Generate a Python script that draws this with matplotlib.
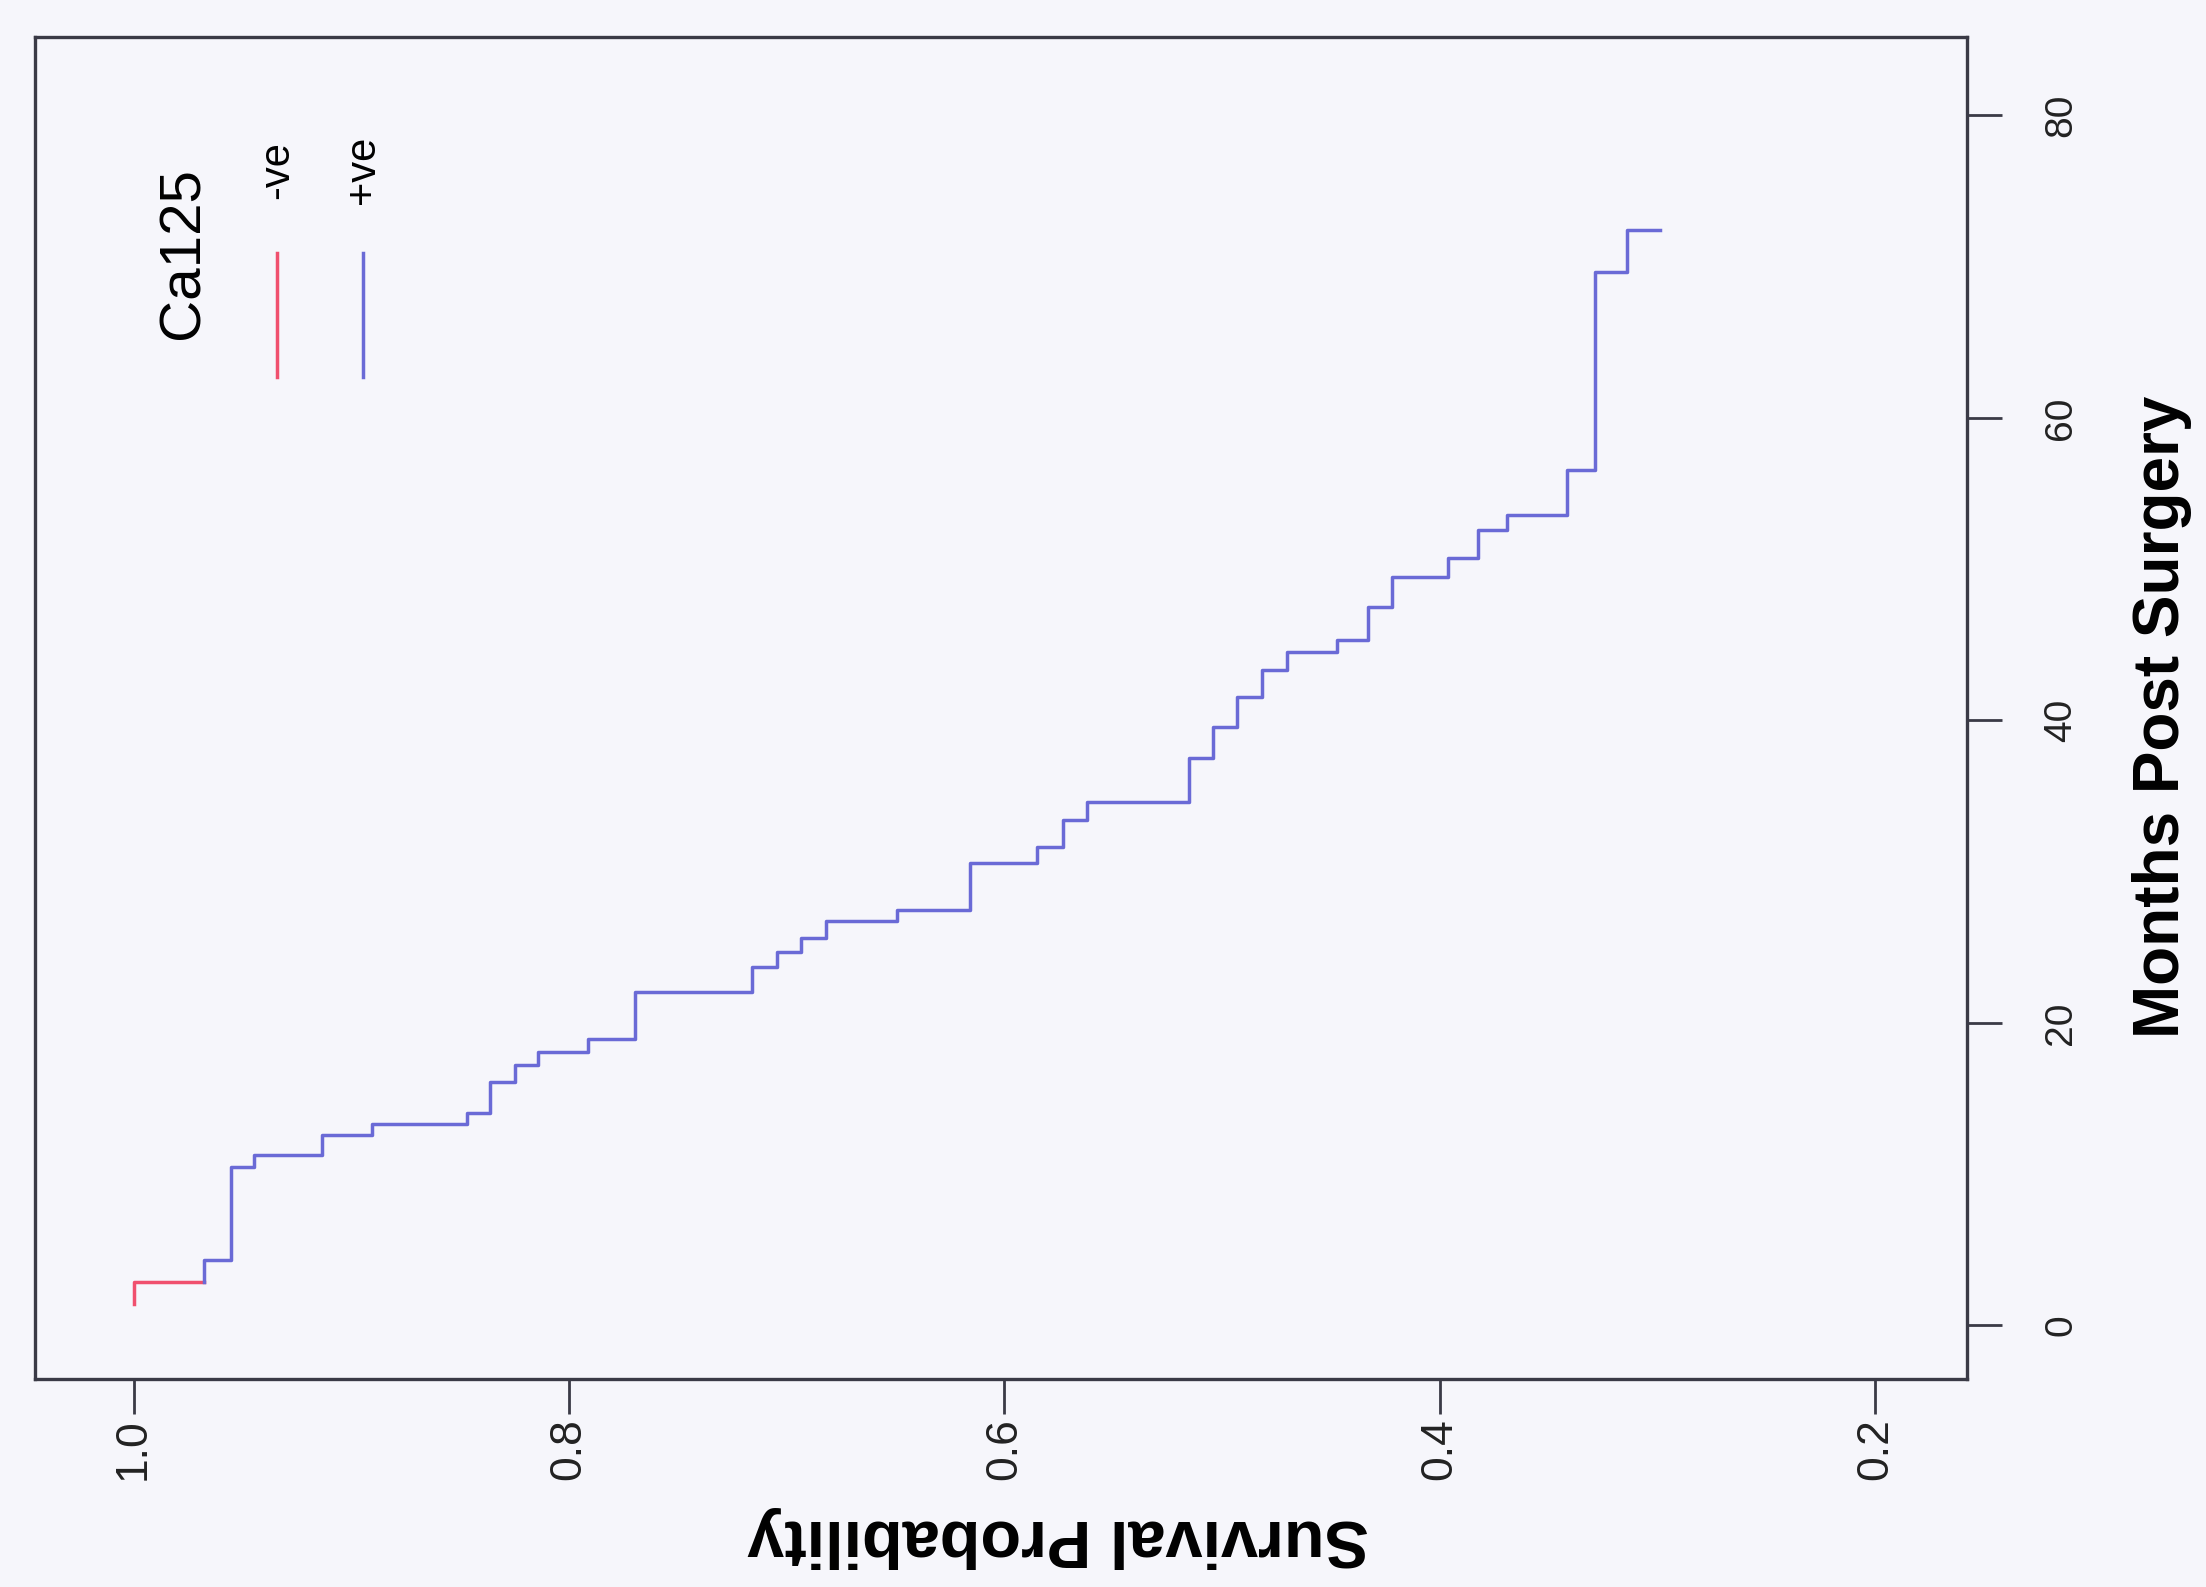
import numpy as np
import matplotlib
matplotlib.use("Agg")
import matplotlib.pyplot as plt
from matplotlib.lines import Line2D

# Kaplan-Meier steps (months, survival probability)
months = [1.4, 2.89, 4.32, 10.49, 11.27, 12.59, 13.32, 14.02, 16.11, 17.22,
          18.10, 18.92, 22.05, 23.72, 24.71, 25.59, 26.76, 27.46, 30.55, 31.65,
          33.41, 34.62, 37.49, 39.58, 41.57, 43.33, 44.54, 45.32, 47.52, 49.50,
          50.74, 52.59, 53.58, 56.56, 69.67, 72.42]
survival = [1.0, 0.9675, 0.9555, 0.9447, 0.9136, 0.8906, 0.8471, 0.8363, 0.8249, 0.8141,
            0.7913, 0.7695, 0.7161, 0.7046, 0.6935, 0.6820, 0.6495, 0.6159, 0.5849, 0.5730,
            0.5622, 0.5153, 0.5041, 0.4934, 0.4819, 0.4704, 0.4471, 0.4329, 0.4221, 0.3961,
            0.3825, 0.3693, 0.3418, 0.3288, 0.3142, 0.2989]

groups = ['-ve', '+ve']
colors = ['#f0506e', '#6a6ad6']
legend_title = 'Ca125'

prob_ticks = [1.0, 0.8, 0.6, 0.4, 0.2]
prob_labels = ['1.0', '0.8', '0.6', '0.4', '0.2']
month_ticks = [0, 20, 40, 60, 80]
month_labels = ['0', '20', '40', '60', '80']

fonts = ['Liberation Sans Narrow', 'Liberation Sans', 'DejaVu Sans']
plt.rcParams['font.family'] = fonts

W, H = 2206, 1587
bg = '#f6f6fb'
fig = plt.figure(figsize=(W / 100, H / 100), dpi=100, facecolor=bg)

# the page is turned on its side: probability runs along the bottom, months up the right
ax = fig.add_axes([35 / W, 1 - 1379 / H, (1967 - 35) / W, (1379 - 37) / H])
ax.set_facecolor(bg)

m = np.array(months)
s = np.array(survival)
ax.step(s[:2], m[:2], where='pre', color=colors[0], lw=2.5)
ax.step(s[1:], m[1:], where='pre', color=colors[1], lw=2.5)

ax.set_xlim(1.0453, 0.1579)
ax.set_ylim(-3.54, 85.19)

for sp in ax.spines.values():
    sp.set_color('#3a3a46')
    sp.set_linewidth(2.4)

ax.set_xticks(prob_ticks)
ax.set_xticklabels(prob_labels, rotation=90, fontsize=32, color='#222222')
ax.yaxis.tick_right()
ax.set_yticks(month_ticks)
ax.set_yticklabels(month_labels, rotation=90, fontsize=28, color='#222222', va='center')
ax.tick_params(axis='x', length=25, width=2, color='#3a3a46', pad=3)
ax.tick_params(axis='y', length=25, width=2, color='#3a3a46', pad=30)

# axis titles
fig.text(2162 / W, 1 - 717 / H, 'Months Post Surgery', rotation=90, fontsize=46,
         fontweight='bold', ha='center', va='center')
fig.text(1058 / W, 1 - 1537 / H, 'Survival Probability', rotation=180, fontsize=48,
         fontweight='bold', ha='center', va='center')

# legend, drawn by hand because it is turned too
fig.text(183 / W, 1 - 253 / H, legend_title, rotation=90, fontsize=42, ha='center', va='center')
key_x = [277, 363]
for i in range(len(groups)):
    fig.add_artist(Line2D([key_x[i] / W, key_x[i] / W], [1 - 253 / H, 1 - 377 / H],
                          color=colors[i], lw=2.5, transform=fig.transFigure))
    fig.text(key_x[i] / W, 1 - 170 / H, groups[i], rotation=90, fontsize=30,
             ha='center', va='center')

fig.savefig('out.png', dpi=100, facecolor=bg)
